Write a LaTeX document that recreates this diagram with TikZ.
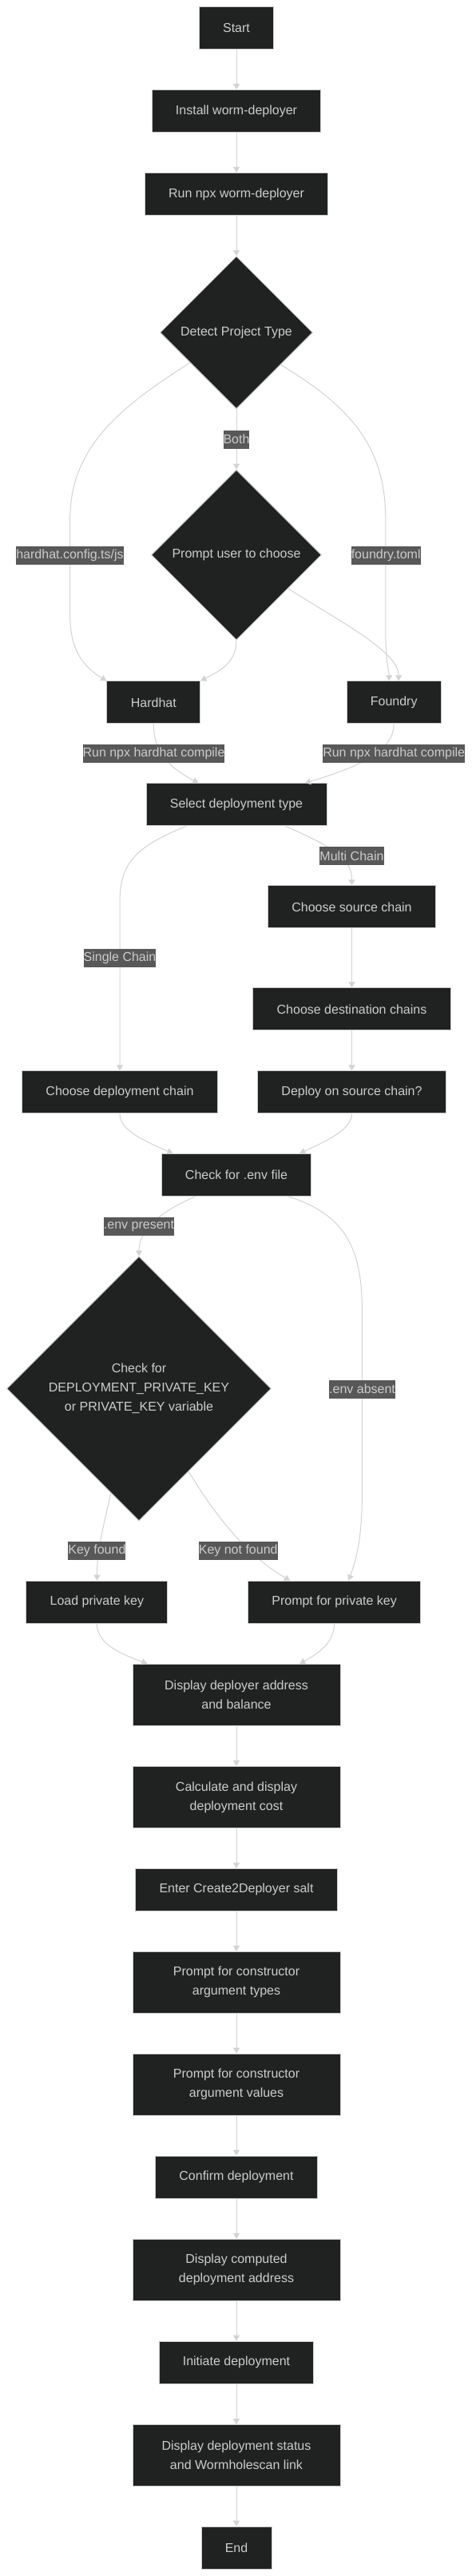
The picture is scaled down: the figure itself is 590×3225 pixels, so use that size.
\documentclass[tikz,border=0pt]{standalone}
\usepackage{fontspec}
\setmainfont{Liberation Sans}
\usetikzlibrary{shapes.geometric,arrows.meta,calc}
\definecolor{nodefill}{HTML}{202221}
\definecolor{nodeborder}{HTML}{CCCCCC}
\definecolor{txt}{HTML}{CCCCCC}
\definecolor{edgec}{HTML}{D3D3D3}
\definecolor{lblbg}{HTML}{585858}
\begin{document}
\begin{tikzpicture}[x=0.75pt,y=-0.75pt,
  base/.style={fill=nodefill, draw=nodeborder, line width=0.75pt, text=txt,
    font=\fontsize{12pt}{18pt}\selectfont, align=center, inner sep=0pt},
  bx/.style 2 args={base, rectangle, minimum width=#1*0.75pt, minimum height=#2*0.75pt},
  dm/.style={base, diamond, minimum width=#1*0.75pt, minimum height=#1*0.75pt},
  lbl/.style={fill=lblbg, text=txt, inner xsep=0pt, inner ysep=0pt,
    minimum height=23*0.75pt, font=\fontsize{12pt}{18pt}\selectfont},
  conn/.style={draw=edgec, line width=0.75pt, -{Triangle[length=5.25pt,width=6pt]}}]
\useasboundingbox (0,0) rectangle (590,3225);
\fill[white] (0,0) rectangle (590,3225);

% nodes
\node[bx={93}{53}] (start) at (296,35) {Start};
\node[bx={211}{53}] (install) at (296,139) {Install worm-deployer};
\node[bx={229}{53}] (runnpx) at (296,243) {Run npx worm-deployer};
\node[dm=191] (detect) at (296,416.3) {Detect Project Type};
\node[dm=213] (prompt) at (296,694.7) {Prompt user to choose};
\node[bx={117}{53}] (hardhat) at (192.3,879.3) {Hardhat};
\node[bx={118}{53}] (foundry) at (493.2,879.3) {Foundry};
\node[bx={226}{53}] (select) at (296,1007.3) {Select deployment type};
\node[bx={210}{53}] (source) at (440.5,1135.3) {Choose source chain};
\node[bx={248}{53}] (dest) at (440.5,1263.3) {Choose destination chains};
\node[bx={245}{53}] (depchain) at (150,1367.3) {Choose deployment chain};
\node[bx={236}{53}] (deploysrc) at (440.5,1367.3) {Deploy on source chain?};
\node[bx={187}{53}] (checkenv) at (296,1471) {Check for .env file};
\node[dm=331] (checkkey) at (174,1738.5) {Check for\\DEPLOYMENT\_PRIVATE\_KEY\\or PRIVATE\_KEY variable};
\node[bx={177}{53}] (loadpk) at (121.4,2005.7) {Load private key};
\node[bx={216}{53}] (promptpk) at (418.6,2005.7) {Prompt for private key};
\node[bx={260}{77}] (display) at (296,2121.8) {Display deployer address\\and balance};
\node[bx={260}{77}] (calc) at (296,2249.9) {Calculate and display\\deployment cost};
\node[bx={253}{53}] (salt) at (296,2365.8) {Enter Create2Deployer salt};
\node[bx={260}{77}] (types) at (296,2481.8) {Prompt for constructor\\argument types};
\node[bx={260}{77}] (values) at (296,2609.7) {Prompt for constructor\\argument values};
\node[bx={203}{53}] (confirm) at (296,2725.6) {Confirm deployment};
\node[bx={260}{77}] (computed) at (296,2841.8) {Display computed\\deployment address};
\node[bx={193}{53}] (initiate) at (296,2957.7) {Initiate deployment};
\node[bx={260}{77}] (status) at (296,3074.2) {Display deployment status\\and Wormholescan link};
\node[bx={88}{53}] (end) at (296,3189.7) {End};

% connectors
\draw[conn] (start) -- (install);
\draw[conn] (install) -- (runnpx);
\draw[conn] (runnpx) -- (detect);
\draw[conn] (detect.213.6) .. controls (150,510) and (87.7,560) .. (87.7,650) -- (87.7,770) .. controls (87.7,815) and (105,835) .. (hardhat.north west);
\draw[conn] (detect.324.6) .. controls (440,510) and (482.8,560) .. (482.8,650) -- (482.8,790) .. controls (482.8,830) and (487.2,840) .. ($(foundry.north)+(-6,0)$);
\draw[conn] (detect) -- (prompt);
\draw[conn] (prompt.south) .. controls (296,830) and (275,840) .. (hardhat.north east);
\draw[conn] (prompt.327.6) .. controls (420,775) and (499.2,815) .. ($(foundry.north)+(6,0)$);
\draw[conn] (hardhat.south) .. controls (192.3,940) and (210,960) .. ($(select.north)+(-47.6,0)$);
\draw[conn] (foundry.south) .. controls (493.2,940) and (450,960) .. ($(select.north)+(86,0)$);
\draw[conn] ($(select.south)+(-62.7,0)$) .. controls (170,1060) and (150,1080) .. (150,1130) -- (depchain.north);
\draw[conn] ($(select.south)+(61.5,0)$) .. controls (420,1062) and (440.5,1075) .. (source.north);
\draw[conn] (source) -- (dest);
\draw[conn] (dest) -- (deploysrc);
\draw[conn] (depchain.south) .. controls (150,1415) and (180,1428) .. ($(checkenv.north)+(-79.6,0)$);
\draw[conn] (deploysrc.south) .. controls (440.5,1415) and (405,1430) .. ($(checkenv.north)+(79.2,0)$);
\draw[conn] ($(checkenv.south)+(-51.4,0)$) .. controls (200,1517) and (174,1540) .. (checkkey.north);
\draw[conn] ($(checkenv.south)+(65.2,0)$) .. controls (430,1520) and (453.4,1560) .. (453.4,1640) -- (453.4,1870) .. controls (453.4,1930) and (445,1955) .. ($(promptpk.north)+(17.9,0)$);
\draw[conn] (checkkey.255.6) .. controls (128,1915) and (121.4,1945) .. (loadpk.north);
\draw[conn] (checkkey.301.8) .. controls (265,1890) and (305,1945) .. ($(promptpk.north)+(-55.5,0)$);
\draw[conn] (loadpk.south) .. controls (121.4,2058) and (150,2070) .. ($(display.north)+(-111.6,0)$);
\draw[conn] (promptpk.south) .. controls (418.6,2058) and (395,2072) .. ($(display.north)+(79.2,0)$);
\draw[conn] (display) -- (calc);
\draw[conn] (calc) -- (salt);
\draw[conn] (salt) -- (types);
\draw[conn] (types) -- (values);
\draw[conn] (values) -- (confirm);
\draw[conn] (confirm) -- (computed);
\draw[conn] (computed) -- (initiate);
\draw[conn] (initiate) -- (status);
\draw[conn] (status) -- (end);

% edge labels
\node[lbl] (lboth) at (296,550.2) {Both};
\node[lbl] (lhh) at (87.5,695) {hardhat.config.ts/js};
\node[lbl] (lft) at (483.2,695) {foundry.toml};
\node[lbl] (lc1) at (192.5,943.3) {Run npx hardhat compile};
\node[lbl] (lc2) at (493.2,943.3) {Run npx hardhat compile};
\node[lbl] (lmulti) at (440.5,1071.4) {Multi Chain};
\node[lbl] (lsingle) at (150,1199.5) {Single Chain};
\node[lbl] (lpresent) at (174,1535.4) {.env present};
\node[lbl] (labsent) at (453.6,1739) {.env absent};
\node[lbl] (lfound) at (121.4,1941.8) {Key found};
\node[lbl] (lnotfound) at (298.2,1941.8) {Key not found};
\end{tikzpicture}
\end{document}
